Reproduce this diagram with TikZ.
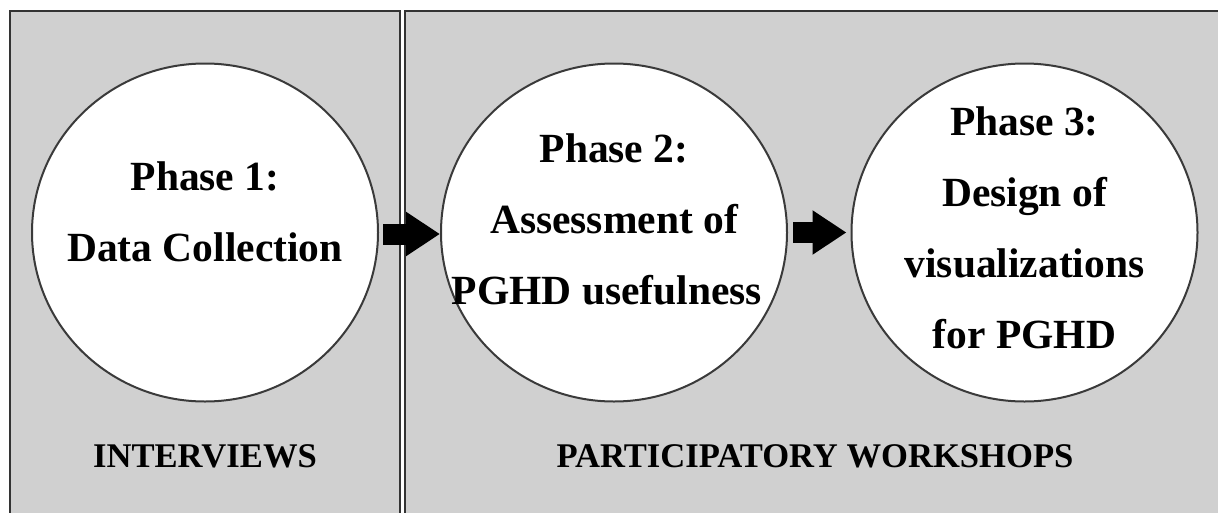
\documentclass[tikz,border=0pt]{standalone}
\usepackage{fontspec}
\setmainfont{Liberation Serif}
\usetikzlibrary{shapes.geometric,arrows.meta}
\definecolor{panelgray}{HTML}{D0D0D0}
\definecolor{edgegray}{HTML}{333333}
\definecolor{circedge}{HTML}{3A3A3A}
\tikzset{
  panel/.style={fill=panelgray,draw=edgegray,line width=2pt},
  phase/.style={ellipse,draw=circedge,fill=white,line width=2pt,inner sep=0pt,
    minimum width=346pt,minimum height=338pt},
  phasetext/.style={align=center,inner sep=0pt,font=\bfseries\fontsize{41.5}{71}\selectfont},
  grouplabel/.style={inner sep=0pt,font=\bfseries\fontsize{34.6}{40}\selectfont},
  blockarrow/.style={line width=21pt,black,-{Triangle[length=34pt,width=42pt]}}
}
\begin{document}
\begin{tikzpicture}[x=1pt,y=-1pt]
\useasboundingbox (0,0) rectangle (1218,512);
\clip (0,0) rectangle (1218,512);
\fill[white] (0,0) rectangle (1218,512);
\draw[panel] (9.5,10.5) rectangle (400,540);
\draw[panel] (405,10.5) rectangle (1240,540);
\node[phase] (c1) at (205,232.5) {};
\node[phase] (c2) at (614,232.5) {};
\node[phase] (c3) at (1024.5,232.5) {};
\node[phasetext] (t1) at (205,212) {Phase 1:\\Data Collection};
\node[phasetext] (t2) at (614,219) {Phase 2:\\Assessment of\\PGHD usefulness\hspace*{14pt}};
\node[phasetext] (t3) at (1024.5,227.5) {Phase 3:\\Design of\\visualizations\\for PGHD};
\draw[blockarrow] ([xshift=4pt,yshift=-1.5pt]c1.east) -- ([yshift=-1.5pt]c2.west);
\draw[blockarrow] ([xshift=5pt]c2.east) -- ([xshift=-4pt]c3.west);
\node[grouplabel] (l1) at (205,456.5) {INTERVIEWS};
\node[grouplabel] (l2) at (815,456.5) {PARTICIPATORY WORKSHOPS};
\end{tikzpicture}
\end{document}
